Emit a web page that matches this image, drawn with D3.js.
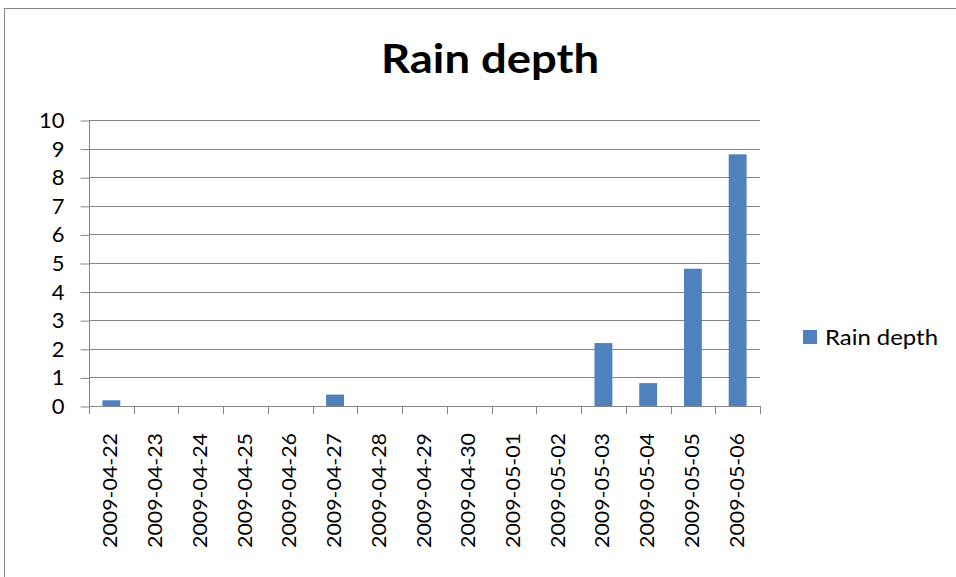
<!DOCTYPE html>
<html>
<head>
<meta charset="utf-8">
<script src="https://cdnjs.cloudflare.com/ajax/libs/d3/7.8.5/d3.min.js"></script>
<style>
  html, body { margin: 0; padding: 0; background: #fff; }
  svg { display: block; }
  text { font-family: Lato, "Open Sans", sans-serif; fill: #000; }
</style>
</head>
<body>
<svg id="chart" width="956" height="577"></svg>
<script>
const categories = ["2009-04-22","2009-04-23","2009-04-24","2009-04-25","2009-04-26","2009-04-27","2009-04-28","2009-04-29","2009-04-30","2009-05-01","2009-05-02","2009-05-03","2009-05-04","2009-05-05","2009-05-06"];
const rainDepth = [0.2, 0, 0, 0, 0, 0.4, 0, 0, 0, 0, 0, 2.2, 0.8, 4.8, 8.8];
const yTicks = [0,1,2,3,4,5,6,7,8,9,10];
const seriesName = "Rain depth";
const titleText = "Rain depth";

(function () {
const svg = d3.select("#chart");
const W = 956, H = 577;

// outer frame
svg.append("rect").attr("x", 4.5).attr("y", 8.5).attr("width", W + 10).attr("height", H + 10)
  .attr("fill", "#fff").attr("stroke", "#868686").attr("stroke-width", 1);

const pLeft = 89, pRight = 760, pTop = 120, pBottom = 406;

const x = d3.scaleBand().domain(categories).range([pLeft, pRight]).paddingInner(0.6).paddingOuter(0.3);
const y = d3.scaleLinear().domain([0, 10]).range([pBottom, pTop]);

// gridlines
svg.append("g").selectAll("line").data(yTicks).join("line")
  .attr("x1", pLeft).attr("x2", pRight)
  .attr("y1", d => Math.round(y(d)) + 0.5).attr("y2", d => Math.round(y(d)) + 0.5)
  .attr("stroke", "#868686").attr("stroke-width", 1);

// bars
svg.append("g").selectAll("rect").data(categories).join("rect")
  .attr("x", d => x(d))
  .attr("width", x.bandwidth())
  .attr("y", (d, i) => y(rainDepth[i]))
  .attr("height", (d, i) => pBottom - y(rainDepth[i]))
  .attr("fill", "#4F81BD");

// y axis
const yAxis = d3.axisLeft(y).tickValues(yTicks).tickSize(9).tickPadding(16).tickFormat(d3.format("d"));
const gy = svg.append("g").attr("transform", `translate(${pLeft + 0.5},0.5)`).call(yAxis);
gy.select(".domain").attr("stroke", "#868686").attr("d", `M0,${pTop}V${pBottom}`);
gy.selectAll(".tick line").attr("stroke", "#868686");
gy.selectAll(".tick text").attr("font-size", 22).attr("font-family", "Lato, sans-serif").attr("fill", "#000");

// x axis line and category boundary ticks
const boundaries = d3.range(categories.length + 1);
svg.append("line").attr("x1", pLeft).attr("x2", pRight).attr("y1", pBottom + 0.5).attr("y2", pBottom + 0.5)
  .attr("stroke", "#868686");
svg.append("g").selectAll("line").data(boundaries).join("line")
  .attr("x1", i => Math.round(pLeft + i * x.step()) + 0.5)
  .attr("x2", i => Math.round(pLeft + i * x.step()) + 0.5)
  .attr("y1", pBottom).attr("y2", pBottom + 8)
  .attr("stroke", "#868686");

// x labels rotated
svg.append("g").selectAll("text").data(categories).join("text")
  .attr("transform", d => `translate(${x(d) + x.bandwidth() / 2 + 6},${433}) rotate(-90)`)
  .attr("text-anchor", "end")
  .attr("font-size", 20)
  .attr("textLength", 115)
  .attr("lengthAdjust", "spacingAndGlyphs")
  .text(d => d);

// title
svg.append("text").attr("x", 490).attr("y", 73).attr("text-anchor", "middle")
  .attr("font-size", 41).attr("font-weight", "bold")
  .attr("textLength", 218).attr("lengthAdjust", "spacingAndGlyphs")
  .text(titleText);

// legend
svg.append("rect").attr("x", 803).attr("y", 330).attr("width", 14).attr("height", 14).attr("fill", "#4F81BD");
svg.append("text").attr("x", 825).attr("y", 344.5).attr("font-size", 21)
  .attr("textLength", 113).attr("lengthAdjust", "spacingAndGlyphs")
  .text(seriesName);
})();
</script>
</body>
</html>
